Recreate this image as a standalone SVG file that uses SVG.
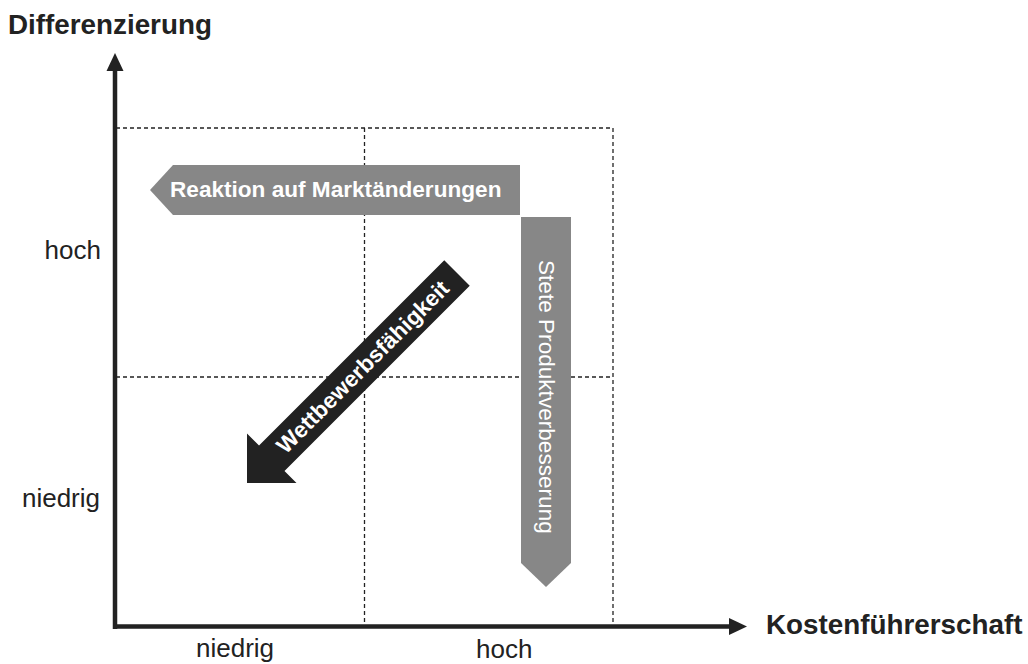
<svg xmlns="http://www.w3.org/2000/svg" width="1028" height="664" viewBox="0 0 1028 664">
<style>
.grid{stroke:#222;stroke-width:1.3;stroke-dasharray:4 3;fill:none}
.axis{stroke:#222;stroke-width:4.5;fill:none}
.head{fill:#222}
.title{font-family:"Liberation Sans",Arial,sans-serif;font-weight:bold;font-size:27.8px;fill:#222}
.lbl{font-family:"Liberation Sans",Arial,sans-serif;font-size:26px;fill:#222}
.grey{fill:#878787}
.wt{font-family:"Liberation Sans",Arial,sans-serif;fill:#fff}
</style>
<rect width="1028" height="664" fill="#fff"/>
<g id="grid">
<path class="grid" d="M116 128H613V626M116 377H613M364.5 128V626"/>
</g>
<g id="axes">
<path class="axis" d="M115 629V68M113 626.5H732"/>
<polygon class="head" points="106.5,71 123.5,71 115,53"/>
<polygon class="head" points="729,618 729,635 747,626.5"/>
</g>
<g id="title-y"><text class="title" x="8" y="34">Differenzierung</text></g>
<g id="title-x"><text class="title" x="766" y="634">Kostenführerschaft</text></g>
<g id="labels">
<text class="lbl" x="101" y="259" text-anchor="end">hoch</text>
<text class="lbl" x="100" y="507" text-anchor="end">niedrig</text>
<text class="lbl" x="196" y="657">niedrig</text>
<text class="lbl" x="476" y="658">hoch</text>
</g>
<g id="markt">
<polygon class="grey" points="150,190 173,165 520,165 520,215 173,215"/>
<text class="wt" x="170" y="197" font-weight="bold" font-size="22.6">Reaktion auf Marktänderungen</text>
</g>
<g id="produkt">
<polygon class="grey" points="521,217 571,217 571,563 546,587 521,563"/>
<text class="wt" transform="translate(546,260) rotate(90)" font-size="22.6" dominant-baseline="central">Stete Produktverbesserung</text>
</g>
<g id="wettbewerb" transform="translate(247,483) rotate(-45)">
<polygon fill="#222" points="0,0 35,-35 35,-18 297,-18 297,18 35,18 35,35"/>
<text class="wt" x="164" y="0" font-weight="bold" font-size="22.6" text-anchor="middle" dominant-baseline="central">Wettbewerbsfähigkeit</text>
</g>
</svg>
